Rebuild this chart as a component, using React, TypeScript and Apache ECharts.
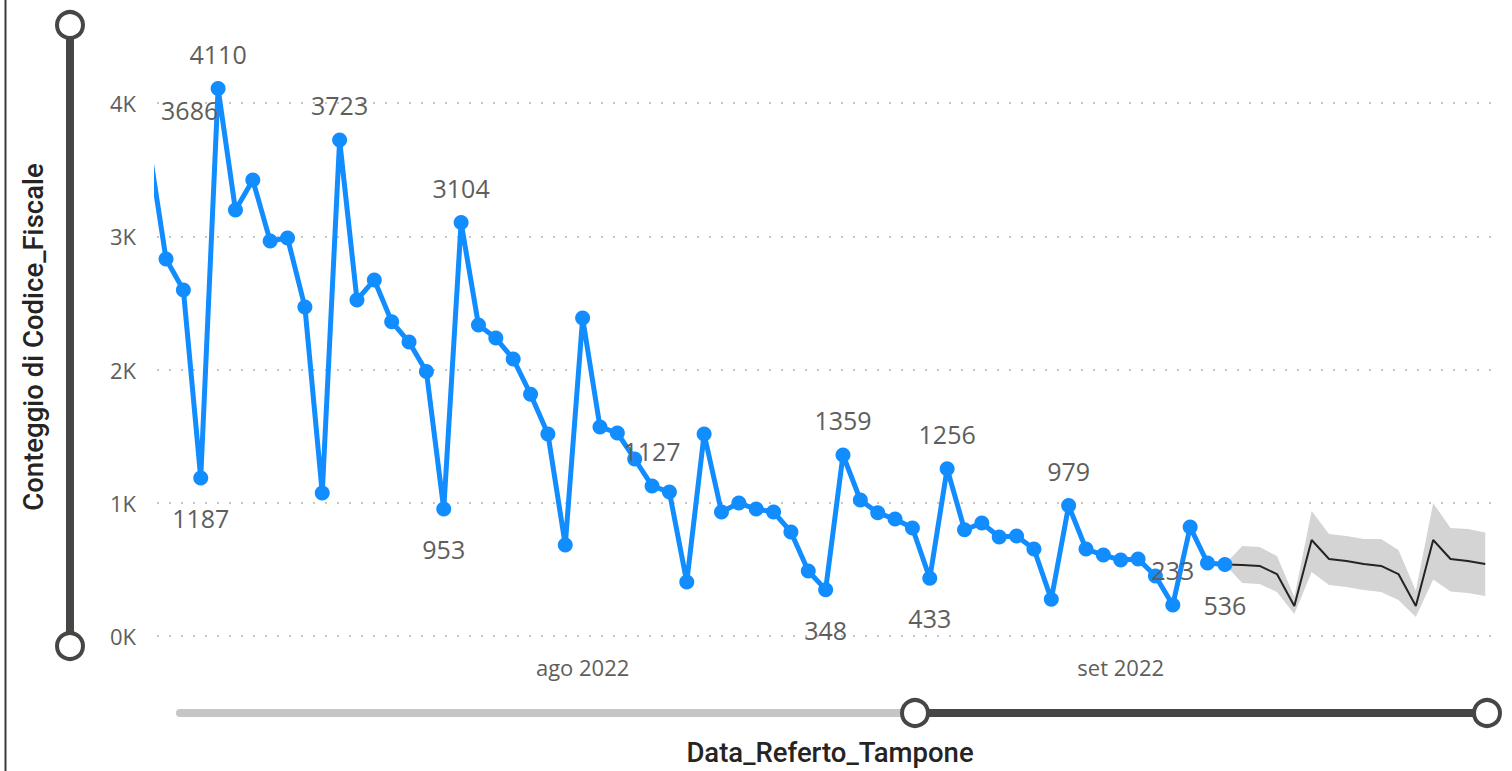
import React, { useEffect, useRef } from 'react';
import * as echarts from 'echarts';

// Day index 0 = 7 luglio 2022
const START_YEAR = 2022;
const START_MONTH = 6;
const START_DAY = 7;
const MONTHS_IT = ['gen', 'feb', 'mar', 'apr', 'mag', 'giu', 'lug', 'ago', 'set', 'ott', 'nov', 'dic'];

const actualValues = [
  3686, 2830, 2598, 1187, 4110, 3198, 3423, 2965, 2988, 2470,
  1074, 3723, 2523, 2673, 2360, 2207, 1985, 953, 3104, 2335,
  2237, 2080, 1815, 1517, 683, 2387, 1570, 1524, 1329, 1127,
  1081, 405, 1517, 931, 998, 953, 931, 781, 488, 348,
  1359, 1021, 925, 878, 811, 433, 1256, 798, 848, 743,
  750, 653, 275, 979, 653, 608, 570, 578, 450, 233,
  818, 548, 536,
];

const forecastStart = 62;
const forecastValues = [536, 533, 526, 465, 225, 721, 578, 563, 541, 526, 465, 225, 721, 578, 563, 541];
const forecastUpper = [536, 676, 668, 601, 293, 938, 766, 751, 728, 728, 646, 340, 998, 811, 803, 778];
const forecastLower = [536, 398, 390, 330, 165, 480, 383, 368, 345, 330, 270, 143, 425, 335, 323, 300];

// labelled points: [day index, position]
const labelledPoints: [number, 'top' | 'bottom'][] = [
  [3, 'bottom'], [4, 'top'], [11, 'top'], [17, 'bottom'], [18, 'top'], [29, 'top'],
  [39, 'bottom'], [40, 'top'], [45, 'bottom'], [46, 'top'], [53, 'top'], [59, 'top'], [62, 'bottom'],
];
const clippedLabelIndex = 0;

const monthTicks = [25, 56]; // 1 ago, 1 set
const Y_MIN = 0;
const Y_MAX = 4775;
const Y_INTERVAL = 1000;

const X_MIN = 0.48;
const X_MAX = 77.85;

const BLUE = '#118DFF';
const LABEL_COLOR = '#605E5C';
const LABEL_FONT = '"Segoe UI", "Open Sans", sans-serif';

function dayToDate(i: number) {
  return new Date(START_YEAR, START_MONTH, START_DAY + Math.round(i));
}

export default function App() {
  const ref = useRef<HTMLDivElement>(null);
  useEffect(() => {
    document.body.style.margin = '0';
    if (!ref.current) return;
    const chart = echarts.init(ref.current, undefined, { renderer: 'svg' });
    const labelMap = new Map(labelledPoints.map(([i, p]) => [i, p]));

    const actualData = actualValues.map((v, i) => {
      const pos = labelMap.get(i);
      if (!pos) return [i, v];
      return {
        value: [i, v],
        label: {
          show: true,
          position: pos,
          distance: pos === 'top' ? 15 : 20,
        },
      };
    });

    const fIdx = forecastValues.map((_, k) => forecastStart + k);
    const bandRows = fIdx.map((x, k) => [x, forecastLower[k], forecastUpper[k]]);

    const option: any = {
      animation: false,
      grid: { left: 157, right: 12, top: 0, bottom: 135, containLabel: false },
      xAxis: {
        type: 'value',
        min: X_MIN,
        max: X_MAX,
        axisLine: { show: false },
        axisTick: { show: false },
        splitLine: { show: false },
        axisLabel: {
          customValues: monthTicks,
          margin: 20,
          color: LABEL_COLOR,
          fontSize: 22,
          fontFamily: LABEL_FONT,
          formatter: (v: number) => {
            const d = dayToDate(v);
            return MONTHS_IT[d.getMonth()] + ' ' + d.getFullYear();
          },
        },
      },
      yAxis: {
        type: 'value',
        min: Y_MIN,
        max: Y_MAX,
        interval: Y_INTERVAL,
        axisLine: { show: false },
        axisTick: { show: false },
        axisLabel: {
          margin: 21,
          showMaxLabel: false,
          color: LABEL_COLOR,
          fontSize: 22,
          fontFamily: LABEL_FONT,
          formatter: (v: number) => (v % Y_INTERVAL === 0 ? v / 1000 + 'K' : ''),
        },
        splitLine: {
          show: true,
          showMaxLine: false,
          lineStyle: { color: '#C8C6C4', width: 2, type: [2, 10] },
        },
      },
      series: [
        {
          type: 'custom',
          data: bandRows,
          silent: true,
          z: 1,
          renderItem: (params: any, api: any) => {
            if (params.dataIndex !== 0) return null;
            const upper = bandRows.map((r) => api.coord([r[0], r[2]]));
            const lower = bandRows.map((r) => api.coord([r[0], r[1]])).reverse();
            return {
              type: 'polygon',
              shape: { points: upper.concat(lower) },
              style: { fill: '#D4D4D4', stroke: 'none' },
            };
          },
        },
        {
          type: 'line',
          data: fIdx.map((x, k) => [x, forecastValues[k]]),
          symbol: 'none',
          lineStyle: { color: '#252423', width: 2 },
          z: 2,
          silent: true,
        },
        {
          type: 'line',
          data: actualData,
          symbol: 'circle',
          symbolSize: 15,
          clip: true,
          itemStyle: { color: BLUE },
          lineStyle: { color: BLUE, width: 5 },
          label: {
            show: false,
            color: LABEL_COLOR,
            fontSize: 25,
            fontFamily: LABEL_FONT,
          },
          z: 3,
        },
        {
          type: 'scatter',
          data: [[clippedLabelIndex, actualValues[clippedLabelIndex]]],
          symbolSize: 1,
          clip: false,
          itemStyle: { color: 'rgba(0,0,0,0)', opacity: 1 },
          label: {
            show: true,
            position: 'top',
            distance: 22,
            offset: [41, 0],
            color: LABEL_COLOR,
            fontSize: 25,
            fontFamily: LABEL_FONT,
            formatter: (p: any) => String(p.value[1]),
          },
          z: 4,
          silent: true,
        },
      ],
      graphic: [
        { type: 'line', shape: { x1: 5.5, y1: 0, x2: 5.5, y2: 771 }, style: { stroke: '#3B3A39', lineWidth: 2 } },
        { type: 'line', shape: { x1: 70, y1: 25, x2: 70, y2: 646 }, style: { stroke: '#484644', lineWidth: 8 } },
        { type: 'circle', shape: { cx: 70, cy: 25, r: 13 }, style: { fill: '#fff', stroke: '#484644', lineWidth: 4 } },
        { type: 'circle', shape: { cx: 70, cy: 646, r: 13 }, style: { fill: '#fff', stroke: '#484644', lineWidth: 4 } },
        { type: 'line', shape: { x1: 180, y1: 713, x2: 915, y2: 713 }, style: { stroke: '#C8C6C4', lineWidth: 8, lineCap: 'round' } },
        { type: 'line', shape: { x1: 915, y1: 713, x2: 1487, y2: 713 }, style: { stroke: '#484644', lineWidth: 8 } },
        { type: 'circle', shape: { cx: 915, cy: 713, r: 13 }, style: { fill: '#fff', stroke: '#484644', lineWidth: 4 } },
        { type: 'circle', shape: { cx: 1487, cy: 713, r: 13 }, style: { fill: '#fff', stroke: '#484644', lineWidth: 4 } },
        {
          type: 'text',
          x: 33,
          y: 337,
          rotation: Math.PI / 2,
          style: {
            text: 'Conteggio di Codice_Fiscale',
            fill: '#252423',
            font: '500 27.5px Roboto, "Open Sans", sans-serif',
            align: 'center',
            verticalAlign: 'middle',
          },
        },
        {
          type: 'text',
          x: 830,
          y: 752,
          style: {
            text: 'Data_Referto_Tampone',
            fill: '#252423',
            font: '500 27.5px Roboto, "Open Sans", sans-serif',
            align: 'center',
            verticalAlign: 'middle',
          },
        },
      ],
    };
    chart.setOption(option);
    return () => chart.dispose();
  }, []);
  return <div ref={ref} style={{ width: 1512, height: 771 }} />;
}
